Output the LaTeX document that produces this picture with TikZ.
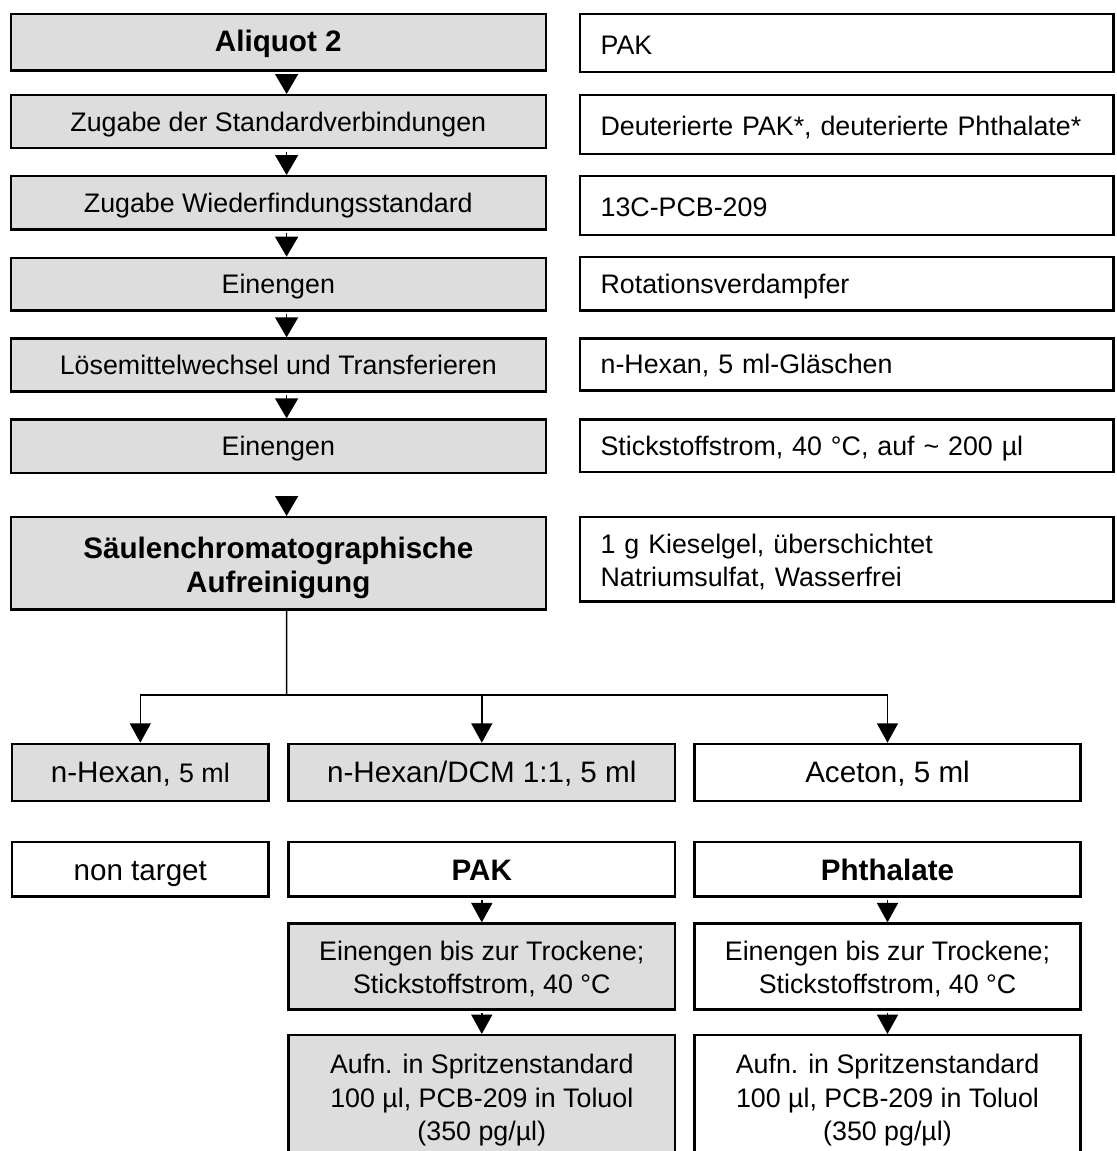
\documentclass[tikz,border=0pt]{standalone}
\usepackage{fontspec}
\setmainfont{Liberation Sans}
\usetikzlibrary{arrows.meta}
\definecolor{boxgray}{RGB}{221,221,221}

\begin{document}
\begin{tikzpicture}[x=0.5pt,y=-0.5pt,
  box/.style={draw, line width=1.2pt, inner sep=0pt, rectangle},
  lcol/.style={box, fill=boxgray, minimum width=267.5pt},
  rcol/.style={box, minimum width=266.75pt, inner xsep=10.4pt, text width=245.95pt, align=left},
  nf/.style={font=\fontsize{13.4}{16.6}\selectfont},
  lf/.style={font=\fontsize{14.8}{17}\selectfont},
  bf/.style={font=\fontsize{14.8}{17}\selectfont\bfseries},
  tb/.style={text height=#1, text depth=0.2em},
  tb/.default=1.14em,
  colA/.style={box, minimum width=128.3pt},
  colB/.style={box, minimum width=193.4pt},
  colC/.style={box, minimum width=193.1pt},
  link/.style={line width=0.8pt},
  steparr/.style={link, shorten <=1.15pt, -{Triangle[width=11.5pt,length=10pt]}},
  subarr/.style={link, -{Triangle[width=10.5pt,length=9.7pt]}},
]
\useasboundingbox (0,0) rectangle (1116,1151);

% main sequence, left column
\node[lcol, bf, tb=1.115em, minimum height=28.3pt]  (l1) at (278.3,42.2)  {Aliquot 2};
\node[lcol, nf, tb, minimum height=26.45pt] (l2) at (278.3,121.65) {Zugabe der Standardverbindungen};
\node[lcol, nf, tb, minimum height=26.65pt] (l3) at (278.3,202.85) {Zugabe Wiederfindungsstandard};
\node[lcol, nf, tb, minimum height=26.3pt]  (l4) at (278.3,284.2)  {Einengen};
\node[lcol, nf, tb, minimum height=26.5pt]  (l5) at (278.3,365)    {Lösemittelwechsel und Transferieren};
\node[lcol, nf, tb, minimum height=26.65pt] (l6) at (278.3,446.15) {Einengen};
\node[lcol, bf, align=center, minimum height=46.15pt] (l7) at (278.3,563.35)
  {\rule{0pt}{1.0em}Säulenchromatographische\\Aufreinigung};

% details, right column
\node[rcol, nf, tb=1.35em, minimum height=29.1pt] (r1) at (846.55,43)    {PAK};
\node[rcol, nf, tb=1.3em, minimum height=29.3pt] (r2) at (846.55,124.5) {Deuterierte PAK*, deuterierte Phthalate*};
\node[rcol, nf, tb=1.3em, minimum height=29.3pt] (r3) at (846.55,205.5) {13C-PCB-209};
\node[rcol, nf, tb, minimum height=26.65pt] (r4) at (846.55,283.85) {Rotationsverdampfer};
\node[rcol, nf, tb, minimum height=26pt]    (r5) at (846.55,364.5)  {n-Hexan, 5 ml-Gläschen};
\node[rcol, nf, tb, minimum height=26.3pt]  (r6) at (846.55,445.8)  {Stickstoffstrom, 40 °C, auf \textasciitilde{} 200 µl};
\node[rcol, nf, minimum height=42.15pt]     (r7) at (846.55,559.35)
  {\rule{0pt}{0.95em}1 g Kieselgel, überschichtet\\Natriumsulfat, Wasserfrei};

% elution fractions
\node[colA, fill=boxgray, lf, tb=1.18em, minimum height=28.45pt] (fa) at (140.3,772.35)
  {n-Hexan, {\fontsize{13.4}{16.6}\selectfont 5 ml}};
\node[colB, fill=boxgray, lf, tb=1.18em, minimum height=28.45pt] (fb) at (481.8,772.35) {n-Hexan/DCM 1:1, 5 ml};
\node[colC, lf, tb=1.18em, minimum height=28.45pt] (fc) at (887.5,772.35) {Aceton, 5 ml};

% target groups
\node[colA, lf, tb=1.285em, minimum height=27.3pt] (ta) at (140.3,869.2) {non target};
\node[colB, bf, tb=1.285em, minimum height=27.3pt] (tb) at (481.8,869.2) {PAK};
\node[colC, bf, tb=1.285em, minimum height=27.3pt] (tc) at (887.5,869.2) {Phthalate};

% further treatment
\node[colB, fill=boxgray, nf, align=center, minimum height=42.95pt] (eb) at (481.8,966.5)
  {\rule{0pt}{0.9em}Einengen bis zur Trockene;\\Stickstoffstrom, 40 °C};
\node[colC, nf, align=center, minimum height=42.95pt] (ec) at (887.5,966.5)
  {\rule{0pt}{0.9em}Einengen bis zur Trockene;\\Stickstoffstrom, 40 °C};
\node[colB, fill=boxgray, nf, align=center, minimum height=65pt] (sb) at (481.8,1100.2)
  {Aufn. in Spritzenstandard\\100 µl, PCB-209 in Toluol\\(350 pg/µl)};
\node[colC, nf, align=center, minimum height=65pt] (sc) at (887.5,1100.2)
  {Aufn. in Spritzenstandard\\100 µl, PCB-209 in Toluol\\(350 pg/µl)};

% step arrows of the main sequence
\foreach \a/\b in {l1/l2, l2/l3, l3/l4, l4/l5, l5/l6}
  \draw[steparr] ([xshift=4.15pt]\a.south) -- ([xshift=4.15pt]\b.north);
\draw[steparr, shorten <=11pt] ([xshift=4.15pt]l6.south) -- ([xshift=4.15pt]l7.north);

% split into the three fractions
\coordinate (split) at (286.6,695);
\draw[link] ([xshift=4.15pt]l7.south) -- (split);
\draw[subarr] (split) -| (fa.north);
\draw[subarr] (split) -| (fb.north);
\draw[subarr] (split) -| (fc.north);

% steps of the two target groups
\draw[subarr, shorten <=0.9pt] (tb.south) -- (eb.north);
\draw[subarr, shorten <=1pt] (eb.south) -- (sb.north);
\draw[subarr, shorten <=0.9pt] (tc.south) -- (ec.north);
\draw[subarr, shorten <=1pt] (ec.south) -- (sc.north);
\end{tikzpicture}
\end{document}
